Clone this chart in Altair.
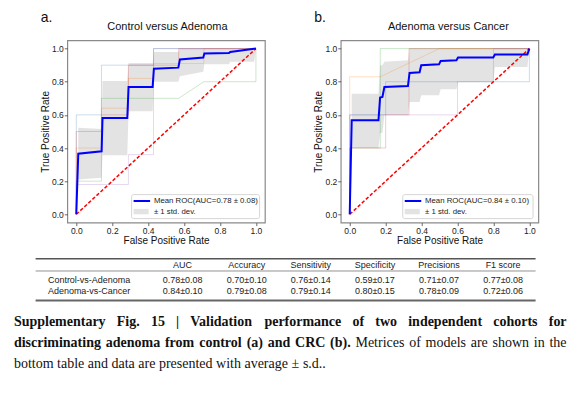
import altair as alt
import pandas as pd

# ---------------- data ----------------
tick_values = [0.0, 0.2, 0.4, 0.6, 0.8, 1.0]
fold_names = ["fold 1", "fold 2", "fold 3", "fold 4", "fold 5"]
fold_colors = ["#1f77b4", "#ff7f0e", "#2ca02c", "#d62728", "#9467bd"]

# Panel a: Control versus Adenoma
a_letter = "a."
a_title = "Control versus Adenoma"
a_legend = "Mean ROC(AUC=0.78 \u00b1 0.08)"
a_mean_fpr = [0, 0.011, 0.141, 0.146, 0.284, 0.291, 0.425, 0.432, 0.568, 0.577, 0.707, 0.713, 0.85, 0.857, 1.0]
a_mean_tpr = [0, 0.366, 0.38, 0.581, 0.581, 0.768, 0.768, 0.879, 0.885, 0.934, 0.946, 0.97, 0.973, 0.98, 1.0]
a_band_fpr = [0.011, 0.141, 0.146, 0.284, 0.291, 0.425, 0.432, 0.568, 0.577, 0.707, 0.713, 0.85, 0.857, 0.99, 1.0]
a_band_lo = [0.21, 0.22, 0.356, 0.356, 0.622, 0.622, 0.80, 0.80, 0.833, 0.86, 0.905, 0.905, 0.92, 0.92, 1.0]
a_band_hi = [0.523, 0.515, 0.805, 0.805, 0.913, 0.913, 0.98, 0.98, 1.0, 1.0, 1.0, 1.0, 1.0, 1.0, 1.0]
a_folds_fpr = [
    [0, 0, 0.14, 0.14, 0.43, 0.43, 1.0],
    [0, 0, 0.14, 0.14, 0.29, 0.29, 0.43, 0.43, 0.71, 0.71, 1.0],
    [0, 0, 0.14, 0.14, 0.57, 0.71, 1.0, 1.0],
    [0, 0, 0.14, 0.14, 0.29, 0.29, 0.57, 0.57, 1.0],
    [0, 0, 0.29, 0.29, 0.43, 0.43, 1.0],
]
a_folds_tpr = [
    [0, 0.6, 0.6, 0.9, 0.9, 1.0, 1.0],
    [0, 0.4, 0.4, 0.64, 0.64, 0.82, 0.82, 0.91, 0.91, 1.0, 1.0],
    [0, 0.2, 0.2, 0.7, 0.7, 0.8, 0.8, 1.0],
    [0, 0.5, 0.5, 0.6, 0.6, 0.9, 0.9, 1.0, 1.0],
    [0, 0.18, 0.18, 0.36, 0.36, 1.0, 1.0],
]

# Panel b: Adenoma versus Cancer
b_letter = "b."
b_title = "Adenoma versus Cancer"
b_legend = "Mean ROC(AUC=0.84 \u00b1 0.10)"
b_mean_fpr = [0, 0.011, 0.16, 0.169, 0.182, 0.193, 0.324, 0.333, 0.389, 0.398, 0.497, 0.506, 0.594, 0.603, 0.799, 0.808, 0.989, 1.0]
b_mean_tpr = [0, 0.567, 0.567, 0.704, 0.708, 0.768, 0.774, 0.853, 0.857, 0.9, 0.905, 0.925, 0.929, 0.946, 0.946, 0.964, 0.964, 1.0]
b_band_fpr = [0.011, 0.16, 0.169, 0.182, 0.193, 0.324, 0.333, 0.389, 0.398, 0.497, 0.506, 0.594, 0.603, 0.799, 0.808, 0.989, 1.0]
b_band_lo = [0.40, 0.40, 0.49, 0.49, 0.60, 0.60, 0.678, 0.678, 0.718, 0.718, 0.755, 0.755, 0.80, 0.80, 0.889, 0.889, 1.0]
b_band_hi = [0.728, 0.728, 0.90, 0.90, 0.92, 0.93, 1.0, 1.0, 1.0, 1.0, 1.0, 1.0, 1.0, 1.0, 1.0, 1.0, 1.0]
b_folds_fpr = [
    [0, 0, 0.2, 0.2, 1.0, 1.0],
    [0, 0, 0.17, 0.5, 1.0],
    [0, 0, 0.17, 0.17, 1.0],
    [0, 0, 0.2, 0.2, 0.33, 0.33, 1.0],
    [0, 0, 0.6, 0.6, 0.8, 0.8, 1.0],
]
b_folds_tpr = [
    [0, 0.6, 0.6, 0.8, 0.8, 1.0],
    [0, 0.83, 0.83, 1.0, 1.0],
    [0, 0.4, 0.4, 1.0, 1.0],
    [0, 0.4, 0.4, 0.6, 0.6, 1.0, 1.0],
    [0, 0.6, 0.6, 0.8, 0.8, 1.0, 1.0],
]

diag_fpr = [0, 1]
diag_tpr = [0, 1]
band_label = "\u00b1 1 std. dev."

# Table
table_columns = ["AUC", "Accuracy", "Sensitivity", "Specificity", "Precisions", "F1 score"]
table_rows = ["Control-vs-Adenoma", "Adenoma-vs-Cancer"]
table_values = [
    ["0.78\u00b10.08", "0.70\u00b10.10", "0.76\u00b10.14", "0.59\u00b10.17", "0.71\u00b10.07", "0.77\u00b10.08"],
    ["0.84\u00b10.10", "0.79\u00b10.08", "0.79\u00b10.14", "0.80\u00b10.15", "0.78\u00b10.09", "0.72\u00b10.06"],
]

# Caption (segments: text, bold)
caption_lines = [
    [("Supplementary Fig. 15 | Validation performance of two independent cohorts for", True)],
    [("discriminating adenoma from control (a) and CRC (b).", True),
     ("Metrices of models are shown in the", False)],
    [("bottom table and data are presented with average \u00b1 s.d..", False)],
]
caption_justify = [True, True, False]

# ---------------- layout ----------------
SANS = "Liberation Sans"
SERIF = "Liberation Serif"
PW, PH = 197.6, 182.3          # plot area of each ROC panel
GAP = 75.45                    # gap between the two plot areas
BOTTOM_TOP = PH + GAP          # origin of the table/caption view (relative to panel top)

xs = alt.Scale(domain=[-0.05, 1.05], nice=False, zero=False)
ys = alt.Scale(domain=[-0.05, 1.05], nice=False, zero=False)
xaxis = alt.Axis(values=tick_values, format=".1f", title="False Positive Rate", grid=False, domain=False,
                 tickSize=3, tickColor="#444", tickWidth=0.8, labelFontSize=8.5, labelPadding=1,
                 labelColor="#222", labelFont=SANS, titleFont=SANS, titleFontSize=10,
                 titleFontWeight="normal", titleColor="#111", titlePadding=0)
yaxis = alt.Axis(values=tick_values, format=".1f", title="True Positive Rate", grid=False, domain=False,
                 tickSize=3, tickColor="#444", tickWidth=0.8, labelFontSize=8.5, labelPadding=1,
                 labelColor="#222", labelFont=SANS, titleFont=SANS, titleFontSize=10,
                 titleFontWeight="normal", titleColor="#111", titlePadding=1)


def X(f):
    return alt.X(f, scale=xs, axis=xaxis)


def Y(f):
    return alt.Y(f, scale=ys, axis=yaxis)


def panel(letter, title, title_dx, mean_fpr, mean_tpr, band_fpr, lo, hi, folds_fpr, folds_tpr, legend_label, leg_x1):
    one = pd.DataFrame({"k": [0]})
    band = alt.Chart(pd.DataFrame({"fpr": band_fpr, "tpr": lo, "hi": hi})).mark_area(
        color="#808080", opacity=0.22).encode(x=X("fpr:Q"), y=Y("tpr:Q"), y2="hi:Q")
    rows = []
    for k, (fx, fy) in enumerate(zip(folds_fpr, folds_tpr)):
        for i, (x, y) in enumerate(zip(fx, fy)):
            rows.append({"fold": fold_names[k], "i": i, "fpr": x, "tpr": y})
    folds = alt.Chart(pd.DataFrame(rows)).mark_line(strokeWidth=1, opacity=0.25).encode(
        x=X("fpr:Q"), y=Y("tpr:Q"),
        color=alt.Color("fold:N", scale=alt.Scale(domain=fold_names, range=fold_colors), legend=None),
        order="i:Q")
    diag = alt.Chart(pd.DataFrame({"fpr": diag_fpr, "tpr": diag_tpr})).mark_line(
        color="#ff0000", strokeWidth=1.5, strokeDash=[3.5, 2]).encode(x=X("fpr:Q"), y=Y("tpr:Q"))
    mean = alt.Chart(pd.DataFrame({"fpr": mean_fpr, "tpr": mean_tpr, "i": list(range(len(mean_fpr)))})).mark_line(
        color="#0000ff", strokeWidth=2).encode(x=X("fpr:Q"), y=Y("tpr:Q"), order="i:Q")
    legbox = alt.Chart(one).mark_rect(fill="white", fillOpacity=0.85, stroke="#cccccc", strokeWidth=0.8,
                                      cornerRadius=2).encode(
        x=alt.value(leg_x1), x2=alt.value(192.3), y=alt.value(154.3), y2=alt.value(178.3))
    legline = alt.Chart(one).mark_rule(color="#0000ff", strokeWidth=2).encode(
        x=alt.value(leg_x1 + 2), x2=alt.value(leg_x1 + 18.5), y=alt.value(160.7))
    legpatch = alt.Chart(one).mark_rect(fill="#808080", opacity=0.22).encode(
        x=alt.value(leg_x1 + 2), x2=alt.value(leg_x1 + 17), y=alt.value(168.6), y2=alt.value(174))
    legt1 = alt.Chart(pd.DataFrame({"t": [legend_label]})).mark_text(
        align="left", baseline="middle", fontSize=7.8, font=SANS, color="#222").encode(
        x=alt.value(leg_x1 + 22.3), y=alt.value(160.9), text="t:N")
    legt2 = alt.Chart(pd.DataFrame({"t": [band_label]})).mark_text(
        align="left", baseline="middle", fontSize=7.8, font=SANS, color="#222").encode(
        x=alt.value(leg_x1 + 22.3), y=alt.value(171.4), text="t:N")
    let = alt.Chart(pd.DataFrame({"t": [letter]})).mark_text(
        align="left", baseline="alphabetic", fontSize=14, font=SANS, color="#111").encode(
        x=alt.value(-26.6), y=alt.value(-18.7), text="t:N")
    tit = alt.Chart(pd.DataFrame({"t": [title]})).mark_text(
        align="center", baseline="alphabetic", fontSize=11, font=SANS, color="#111").encode(
        x=alt.value(PW / 2 + title_dx), y=alt.value(-10), text="t:N")
    return alt.layer(band, folds, diag, mean, legbox, legline, legpatch, legt1, legt2, let, tit).properties(
        width=PW, height=PH, view=alt.ViewBackground(stroke="#8a8a8a", strokeWidth=1.2, fill="white"))


panel_a = panel(a_letter, a_title, 1.3, a_mean_fpr, a_mean_tpr, a_band_fpr, a_band_lo, a_band_hi,
                a_folds_fpr, a_folds_tpr, a_legend, 64.3)
panel_b = panel(b_letter, b_title, 8.8, b_mean_fpr, b_mean_tpr, b_band_fpr, b_band_lo, b_band_hi,
                b_folds_fpr, b_folds_tpr, b_legend, 62.0)

# ---------------- table + caption view ----------------
OY = -BOTTOM_TOP  # convert "relative to panel top" into bottom view coordinates
one = pd.DataFrame({"k": [0]})


def hrule(y, w, color):
    return alt.Chart(one).mark_rule(color=color, strokeWidth=w).encode(
        x=alt.value(-31.7), x2=alt.value(468.3), y=alt.value(y + OY))


tbl_x = alt.Scale(type="point", domain=table_columns, range=[115.3, 435.8], padding=0)
tbl_y = alt.Scale(type="point", domain=table_rows, range=[242.0 + OY, 253.2 + OY], padding=0)
cells = pd.DataFrame([{"row": r, "col": c, "val": table_values[i][j]}
                      for i, r in enumerate(table_rows) for j, c in enumerate(table_columns)])

header = alt.Chart(pd.DataFrame({"col": table_columns})).mark_text(
    align="center", baseline="alphabetic", fontSize=9, font=SANS, color="#222").encode(
    x=alt.X("col:N", scale=tbl_x, axis=None), y=alt.value(227.0 + OY), text="col:N")
cell_txt = alt.Chart(cells).mark_text(
    align="center", baseline="alphabetic", fontSize=9, font=SANS, color="#222").encode(
    x=alt.X("col:N", scale=tbl_x, axis=None), y=alt.Y("row:N", scale=tbl_y, axis=None), text="val:N")
row_txt = alt.Chart(pd.DataFrame({"row": table_rows})).mark_text(
    align="left", baseline="alphabetic", fontSize=9, font=SANS, color="#222").encode(
    x=alt.value(-19.4), y=alt.Y("row:N", scale=tbl_y, axis=None), text="row:N")

# caption word placement (justified like the source)
TR = {' ': 250, 'a': 444, 'b': 500, 'c': 444, 'd': 500, 'e': 444, 'f': 333, 'g': 500, 'h': 500, 'i': 278,
      'l': 278, 'm': 778, 'n': 500, 'o': 500, 'p': 500, 'r': 333, 's': 389, 't': 278, 'u': 500, 'v': 500,
      'w': 722, 'y': 500, 'M': 889, '.': 250, '\u00b1': 564}
TB = {' ': 250, 'a': 500, 'b': 556, 'c': 444, 'd': 556, 'e': 444, 'f': 333, 'g': 500, 'h': 556, 'i': 278,
      'l': 278, 'm': 833, 'n': 556, 'o': 500, 'p': 556, 'r': 444, 's': 389, 't': 333, 'u': 556, 'v': 500,
      'w': 722, 'y': 500, 'C': 722, 'F': 611, 'R': 722, 'S': 556, 'V': 722, '.': 250, '(': 333, ')': 333,
      '|': 220, '1': 500, '5': 500}
CFS = 14
CAP_LEFT, CAP_RIGHT = -53.4, 499.3
CAP_BASE = [285.0, 306.3, 326.8]


def wwidth(word, bold):
    t = TB if bold else TR
    return sum(t.get(ch, 500) for ch in word) * CFS / 1000.0


words = []
for li, segs in enumerate(caption_lines):
    ws = [(w, b) for txt, b in segs for w in txt.split(" ")]
    widths = [wwidth(w, b) for w, b in ws]
    if caption_justify[li]:
        gap = (CAP_RIGHT - CAP_LEFT - sum(widths)) / (len(ws) - 1)
    else:
        gap = 250 * CFS / 1000.0
    x = CAP_LEFT
    for (w, b), wd in zip(ws, widths):
        words.append({"word": w, "bold": b, "x": x, "y": CAP_BASE[li] + OY})
        x += wd + gap
words = pd.DataFrame(words)

cap_bold = alt.Chart(words[words.bold]).mark_text(
    align="left", baseline="alphabetic", fontSize=CFS, font=SERIF, fontWeight="bold", color="#111").encode(
    x=alt.X("x:Q", scale=None, axis=None), y=alt.Y("y:Q", scale=None, axis=None), text="word:N")
cap_reg = alt.Chart(words[~words.bold]).mark_text(
    align="left", baseline="alphabetic", fontSize=CFS, font=SERIF, color="#111").encode(
    x=alt.X("x:Q", scale=None, axis=None), y=alt.Y("y:Q", scale=None, axis=None), text="word:N")

bottom = alt.layer(
    hrule(217.8, 1.5, "#555555"), hrule(230.0, 0.8, "#777777"), hrule(259.5, 2.0, "#666666"),
    header, cell_txt, row_txt, cap_bold, cap_reg,
).resolve_scale(x="independent", y="independent").properties(
    width=PW, height=5, view=alt.ViewBackground(stroke="transparent"))

chart = alt.concat(panel_a, panel_b, bottom, columns=2, spacing=GAP, bounds="flush").properties(
    padding={"left": 5.3, "top": 1.3, "right": 5, "bottom": 5}, background="white"
).configure_view(stroke="transparent")

chart.save("out.html", embed_options={"renderer": "svg", "actions": False})
